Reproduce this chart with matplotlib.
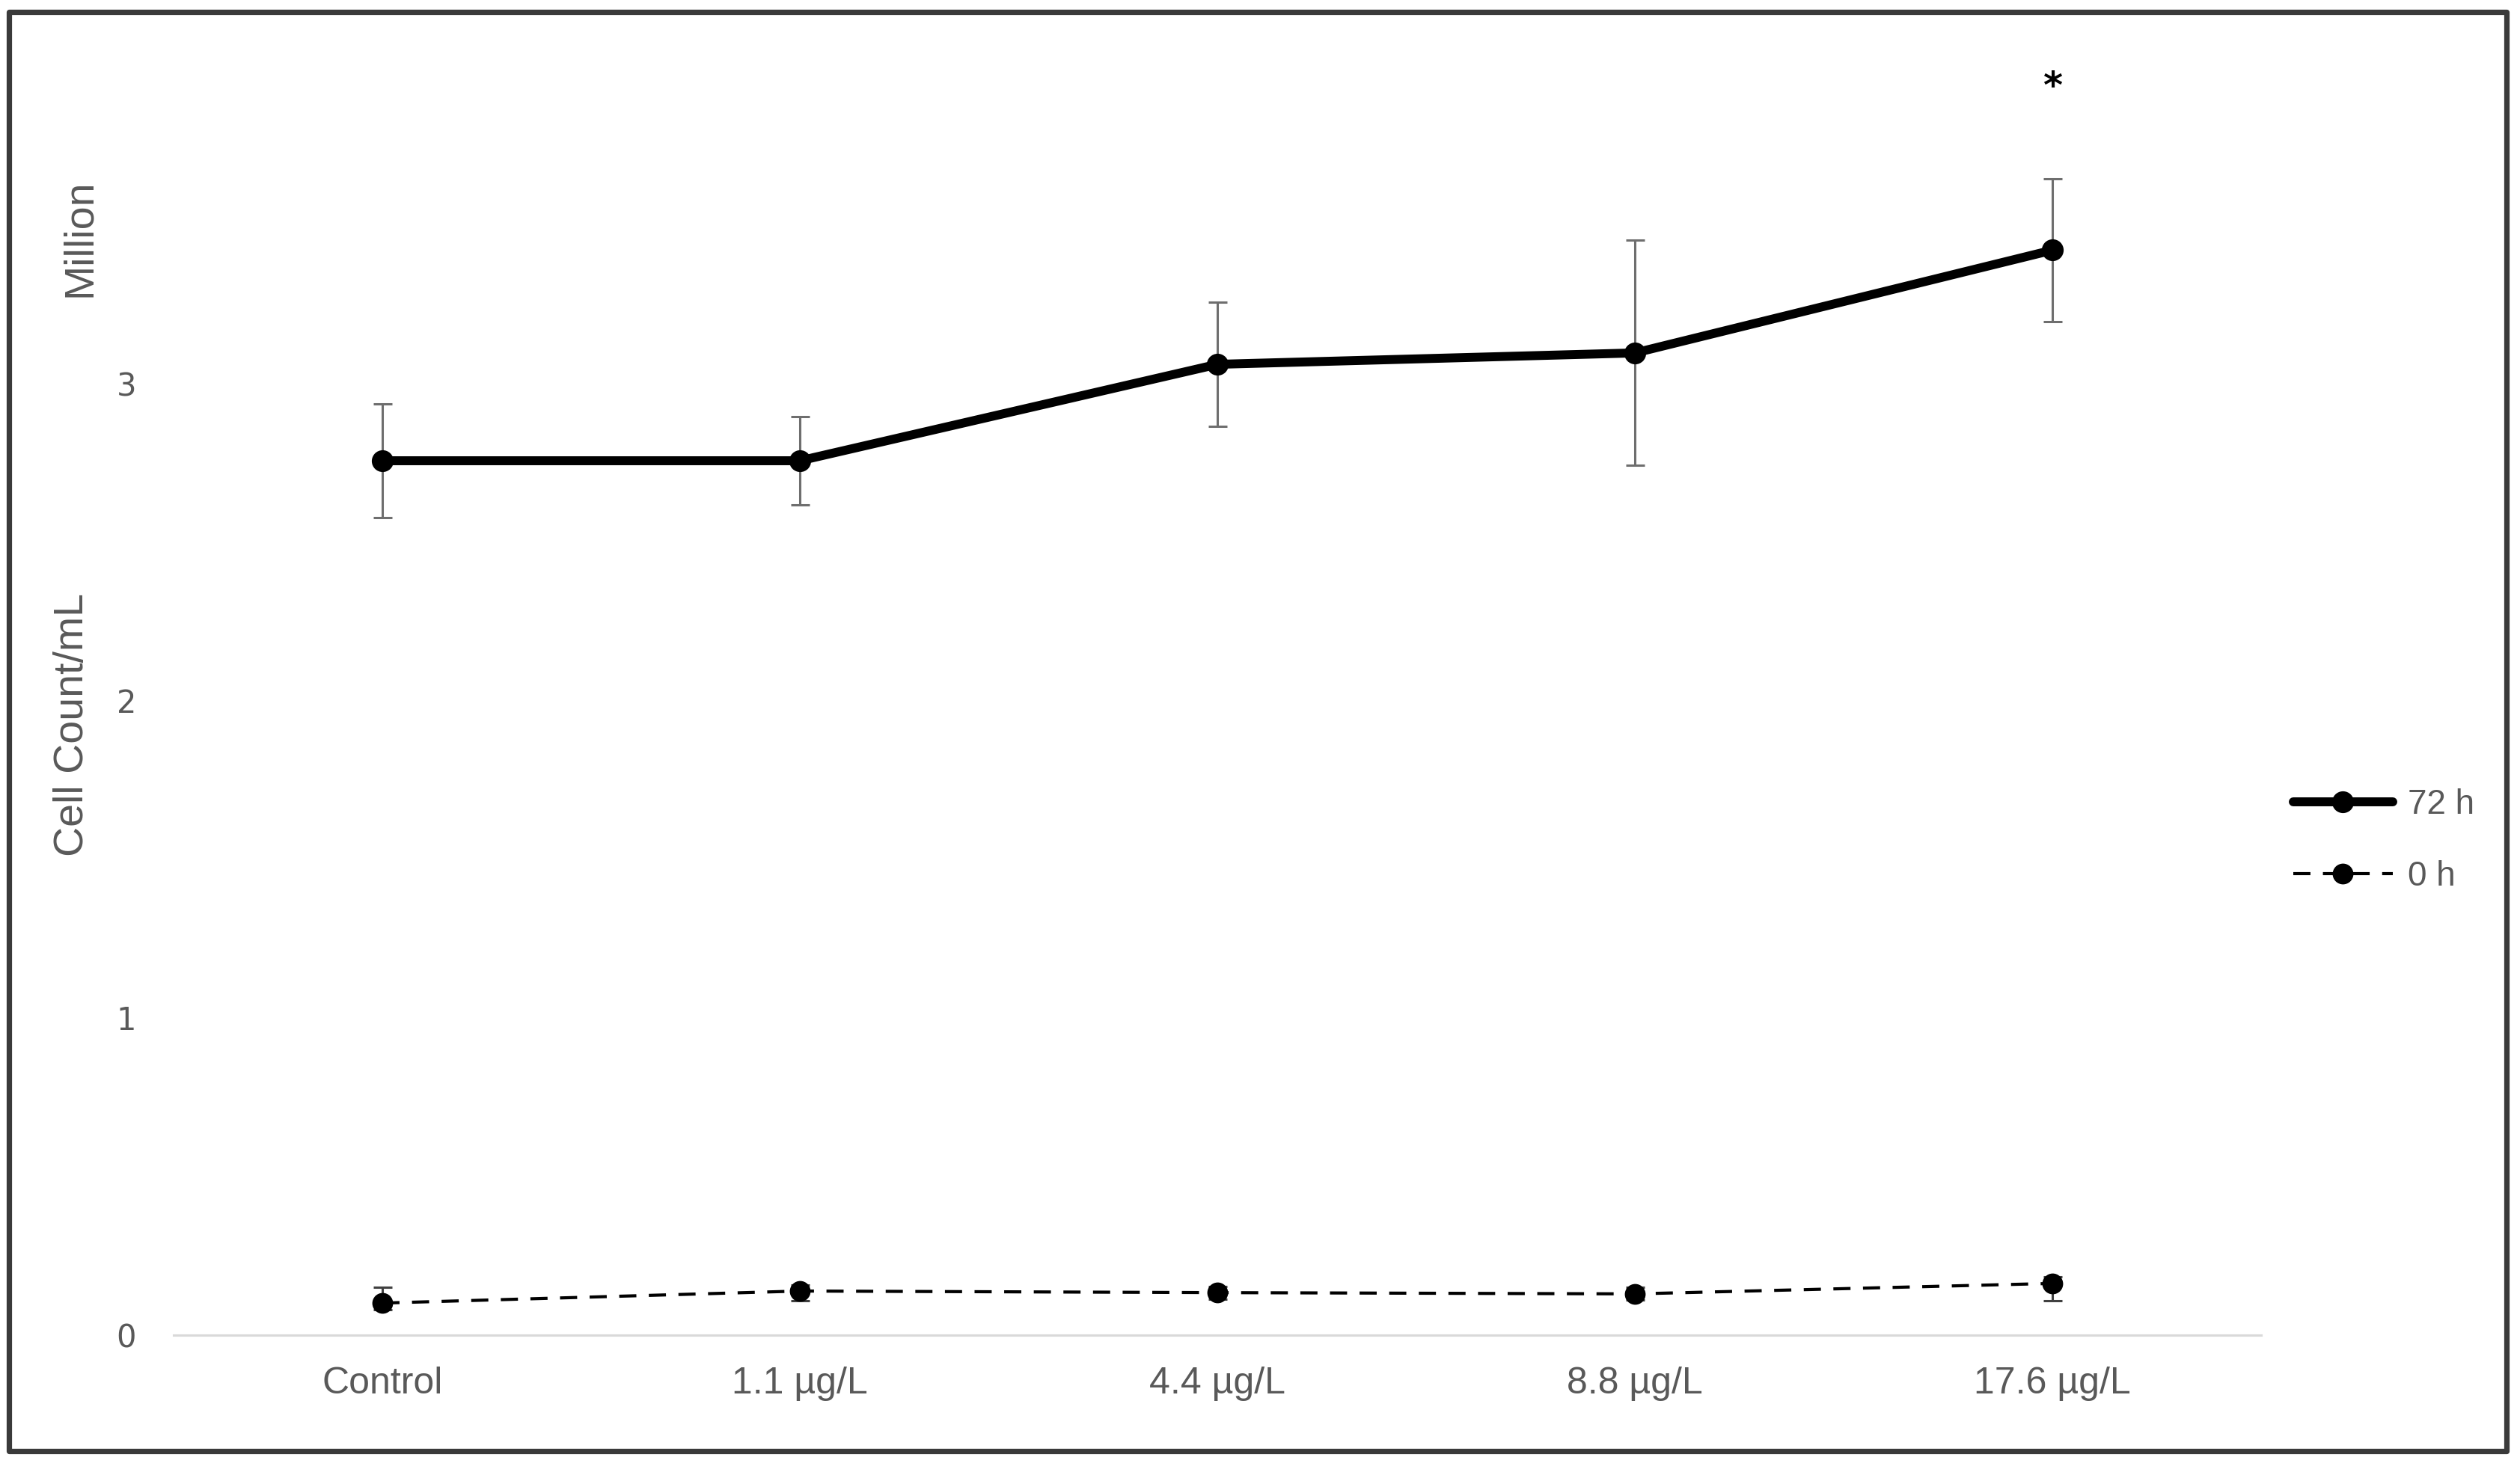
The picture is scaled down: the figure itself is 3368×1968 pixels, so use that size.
import matplotlib
matplotlib.use("Agg")
import matplotlib.pyplot as plt
from matplotlib.patches import Rectangle
import numpy as np

categories = ["Control", "1.1 \u00b5g/L", "4.4 \u00b5g/L", "8.8 \u00b5g/L", "17.6 \u00b5g/L"]
h72_values = [2.757, 2.757, 3.061, 3.097, 3.421]
h72_err = [0.18, 0.14, 0.195, 0.355, 0.225]
h0_values = [0.101, 0.139, 0.134, 0.130, 0.163]
h0_err_low = [0.02, 0.03, 0.02, 0.02, 0.055]
h0_err_high = [0.05, 0.02, 0.02, 0.02, 0.02]
yticks = [0, 1, 2, 3]
star_index = 4
star_y = 3.935

TEXT = "#595959"
ERR = "#6e6e6e"

fig = plt.figure(figsize=(16.84, 9.84), dpi=200)
ax = fig.add_axes([0.0689, 0.0930, 0.8284, 0.8618])
x = np.arange(len(categories))

ax.errorbar(x, h72_values, yerr=h72_err, fmt="none", ecolor=ERR, elinewidth=1.1,
            capsize=4.5, capthick=1.1, zorder=2)
ax.errorbar(x, h0_values, yerr=[h0_err_low, h0_err_high], fmt="none", ecolor="#404040",
            elinewidth=1.1, capsize=4.5, capthick=1.1, zorder=2)
ax.plot(x, h72_values, color="black", lw=4.3, marker="o", markersize=9.5,
        solid_capstyle="round", label="72 h", zorder=3)
ax.plot(x, h0_values, color="black", lw=1.5, ls=(0, (5.5, 4)), marker="o", markersize=9,
        label="0 h", zorder=3)

ax.text(x[star_index], star_y, "*", ha="center", va="center", fontsize=18,
        fontweight="bold", color="black", family="DejaVu Sans")

ax.set_xlim(-0.5, len(categories) - 0.5)
ax.set_ylim(0, 4.0)
ax.set_yticks(yticks)
ax.set_yticklabels([str(t) for t in yticks])
ax.set_xticks(x)
ax.set_xticklabels(categories)
for s in ["top", "right", "left"]:
    ax.spines[s].set_visible(False)
ax.spines["bottom"].set_color("#d9d9d9")
ax.spines["bottom"].set_linewidth(1.1)
ax.tick_params(axis="both", length=0)
ax.tick_params(axis="y", pad=18, labelsize=15, labelcolor=TEXT)
ax.tick_params(axis="x", pad=15, labelsize=18, labelcolor=TEXT)
for lab in ax.get_xticklabels():
    lab.set_family("Liberation Sans")
for lab in ax.get_yticklabels():
    lab.set_family("DejaVu Sans")

fig.text(0.0318, 1 - 318 / 1968, "Million", rotation=90, ha="center", va="center",
         fontsize=20, color=TEXT, family="Liberation Sans")
fig.text(0.0288, 1 - 969 / 1968, "Cell Count/mL", rotation=90, ha="center", va="center",
         fontsize=20, color=TEXT, family="Liberation Sans")

leg = fig.legend(loc="center left", bbox_to_anchor=(0.910, 0.4289), frameon=False,
                 borderpad=0, borderaxespad=0, handlelength=2.9, handletextpad=0.45,
                 labelspacing=1.15, prop={"family": "Liberation Sans", "size": 16.5})
for t in leg.get_texts():
    t.set_color(TEXT)

fig.patches.append(Rectangle((0.00356, 0.01423), 0.99466 - 0.00356, 0.99187 - 0.01423,
                             transform=fig.transFigure, fill=False, edgecolor="#3a3a3a",
                             linewidth=2.6, joinstyle="round"))

fig.savefig("out.png", dpi=200, facecolor="white")
